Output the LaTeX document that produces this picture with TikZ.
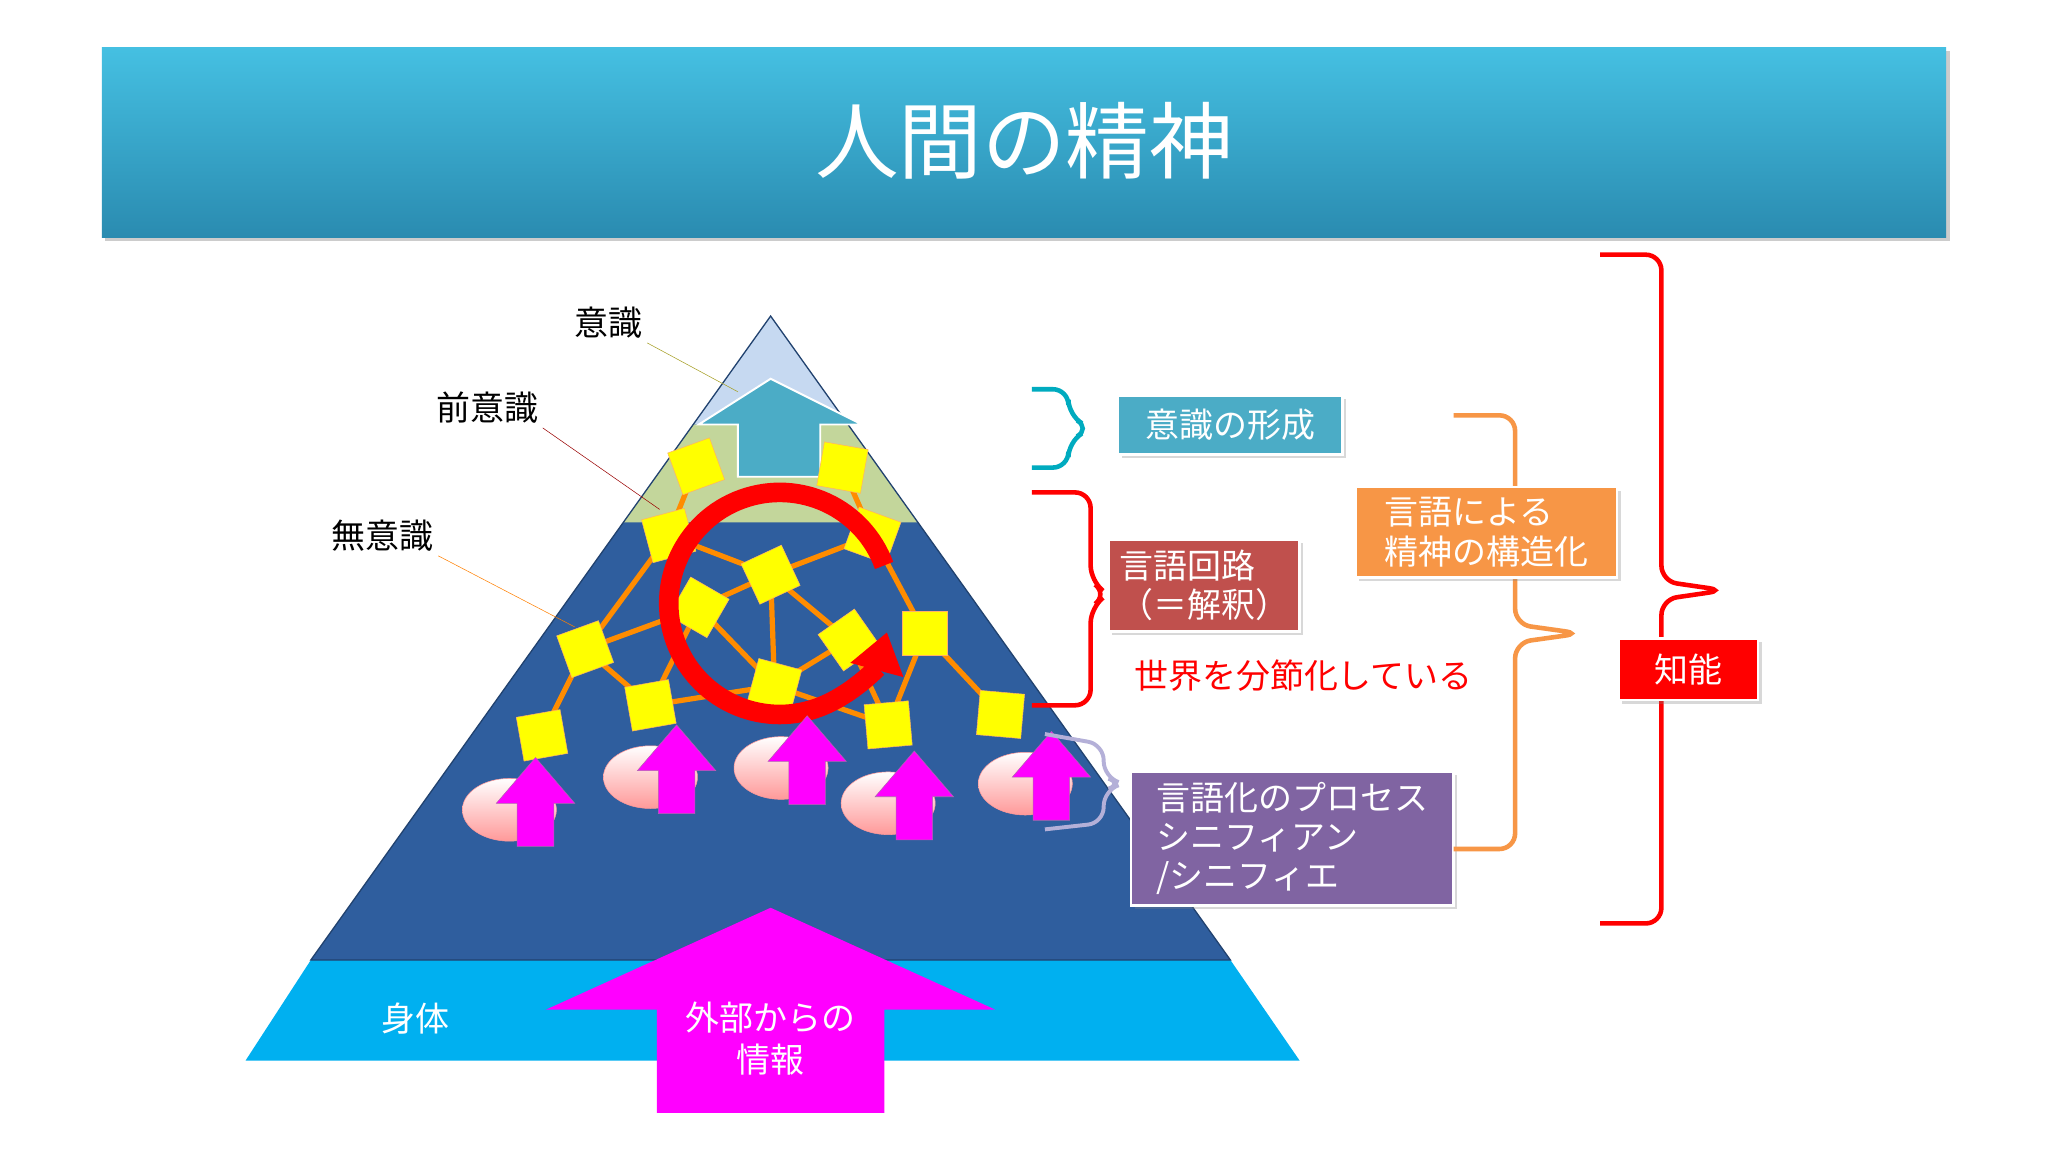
\documentclass[tikz,border=0pt]{standalone}
\usepackage{fontspec}
\setmainfont{Noto Sans CJK JP}
\usetikzlibrary{arrows.meta,shadows,shapes.geometric}
\definecolor{ttop}{HTML}{45C0E2}\definecolor{tbot}{HTML}{2A8BB0}
\definecolor{pyr}{HTML}{2F5E9E}\definecolor{body}{HTML}{00B0F0}
\definecolor{teal}{HTML}{4BACC6}\definecolor{dred}{HTML}{C0504D}
\definecolor{purp}{HTML}{8064A2}\definecolor{orng}{HTML}{F79646}
\definecolor{mag}{HTML}{FF00FF}\definecolor{ylw}{HTML}{FFFF00}
\definecolor{lgreen}{HTML}{C3D69B}\definecolor{lav}{HTML}{C6D9F1}
\definecolor{lavb}{HTML}{B4B0D8}
\tikzset{
  lbox/.style={draw=white,line width=2pt,text=white,font=\fontsize{26}{30}\selectfont,align=left,inner sep=8pt,drop shadow={opacity=0.3}},
  sq/.style={fill=ylw,draw=orange!60,minimum size=34pt,inner sep=0},
  net/.style={draw=orange!90!yellow,line width=4pt},
  lab/.style={font=\fontsize{26}{30}\selectfont},
  brc/.style={line width=3.5pt,rounded corners=12pt},
  ell/.style={ellipse,minimum width=72pt,minimum height=48pt,draw=red!40,top color=white,bottom color=pink!80!red},
  marr/.style={fill=mag,draw=violet!60}
}
\begin{document}
\begin{tikzpicture}[x=1pt,y=-1pt]
\useasboundingbox (0,0) rectangle (1568,882);
\fill[white] (0,0) rectangle (1568,882);
% title
\shade[top color=ttop,bottom color=tbot,drop shadow={opacity=0.4}] (78,36) rectangle (1490,182);
\node[text=white,font=\fontsize{64}{70}\selectfont] (title) at (784,108) {人間の精神};
% body trapezoid
\fill[body] (188,812) -- (238,735) -- (942,735) -- (995,812) -- cycle;
% pyramid
\fill[pyr] (590,242) -- (238,735) -- (942,735) -- cycle;
\fill[lgreen] (531,325) -- (649,325) -- (703,400) -- (477,400) -- cycle;
\fill[lav] (590,242) -- (531,325) -- (649,325) -- cycle;
\draw[pyr!70!black,line width=1pt] (590,242) -- (238,735) -- (942,735) -- cycle;
% labels lines
\node[lab] (ish) at (466,247) {意識};
\node[lab] (zen) at (373,312) {前意識};
\node[lab] (mu) at (293,410) {無意識};
\coordinate (p1) at (565,300); \coordinate (p2) at (505,390); \coordinate (p3) at (440,480);
\draw[olive!80] (ish.south east) -- (p1);
\draw[red!60!black] (zen.south east) -- (p2);
\draw[orange] (mu.south east) -- (p3);
% teal arrow
\fill[teal,draw=white,line width=1.5pt] (590,290) -- (660,325) -- (628,325) -- (628,365) -- (565,365) -- (565,325) -- (535,325) -- cycle;
% network
\coordinate (a1) at (533,357); \coordinate (a2) at (645,358); \coordinate (a3) at (512,410);
\coordinate (a4) at (590,440); \coordinate (a5) at (668,410); \coordinate (a6) at (448,497);
\coordinate (a7) at (535,465); \coordinate (a8) at (650,490); \coordinate (a9) at (708,485);
\coordinate (a10) at (498,540); \coordinate (a11) at (593,525); \coordinate (a12) at (680,555);
\coordinate (a13) at (766,547); \coordinate (a14) at (415,563);
\draw[net] (a14) -- (a6) -- (a3) -- (a1);
\draw[net] (a6) -- (a7) -- (a4) -- (a5) -- (a2);
\draw[net] (a10) -- (a7) -- (a11) -- (a8) -- (a4);
\draw[net] (a8) -- (a12) -- (a9) -- (a13);
\draw[net] (a6) -- (a10) -- (a11) -- (a12);
\draw[net] (a3) -- (a4) -- (a11);
\draw[net] (a5) -- (a9);
\foreach \p/\r in {a1/20,a2/-10,a3/15,a4/25,a5/-20,a6/20,a7/-30,a8/35,a9/0,a10/10,a11/-15,a12/5,a13/-5,a14/10}
  \node[sq,rotate=\r] at (\p) {};
% red circular arrow
\draw[red,line width=15pt,-{Triangle[length=30pt,width=40pt]}] (597,462) ++(340:85) arc[start angle=340,end angle=15,radius=85];
% ellipses & magenta arrows
\foreach \x/\y in {390/620,498/595,598/588,680/615,785/600}{
  \node[ell] at (\x,\y) {};
  \fill[marr] (\x+20,\y-40) -- (\x+50,\y-5) -- (\x+34,\y-5) -- (\x+34,\y+28) -- (\x+6,\y+28) -- (\x+6,\y-5) -- (\x-10,\y-5) -- cycle;
}
% big magenta arrow
\fill[mag] (590,695) -- (762,773) -- (677,773) -- (677,852) -- (503,852) -- (503,773) -- (418,773) -- cycle;
\node[text=white,font=\fontsize{26}{32}\selectfont,align=center] (ext) at (590,795) {外部からの\\情報};
\node[text=white,lab] (shin) at (318,780) {身体};
% braces
\draw[brc,color=cyan!70!green] (790,298) -- (818,298) -- (818,318) -- (835,328) -- (818,338) -- (818,358) -- (790,358);
\node[lbox,fill=teal,anchor=north west,minimum width=172pt,minimum height=45pt] (b1) at (855,302) {意識の形成};
\draw[brc,color=red] (790,377) -- (835,377) -- (835,445) -- (848,455) -- (835,465) -- (835,540) -- (790,540);
\node[lbox,fill=dred,anchor=north west,minimum width=140pt] (b2) at (848,412) {言語回路\\（＝解釈）};
\node[text=red,font=\fontsize{26}{30}\selectfont\itshape] (sek) at (998,517) {世界を分節化している};
\draw[brc,color=lavb,line width=3pt] (800,562) -- (845,570) -- (845,595) -- (860,600) -- (845,605) -- (845,630) -- (800,635);
\node[lbox,fill=purp,anchor=north west,minimum width=247pt] (b3) at (865,590) {言語化のプロセス\\シニフィアン\\/シニフィエ};
\draw[brc,color=orng] (1113,318) -- (1160,318) -- (1160,478) -- (1210,485) -- (1160,492) -- (1160,650) -- (1113,650);
\node[lbox,fill=orng,anchor=north west,minimum width=200pt] (b4) at (1037,372) {言語による\\精神の構造化};
\draw[brc,color=red] (1225,195) -- (1272,195) -- (1272,445) -- (1320,452) -- (1272,459) -- (1272,707) -- (1225,707);
\node[lbox,fill=red,anchor=north west,minimum width=107pt,minimum height=47pt] (b5) at (1238,488) {知能};
\end{tikzpicture}
\end{document}
